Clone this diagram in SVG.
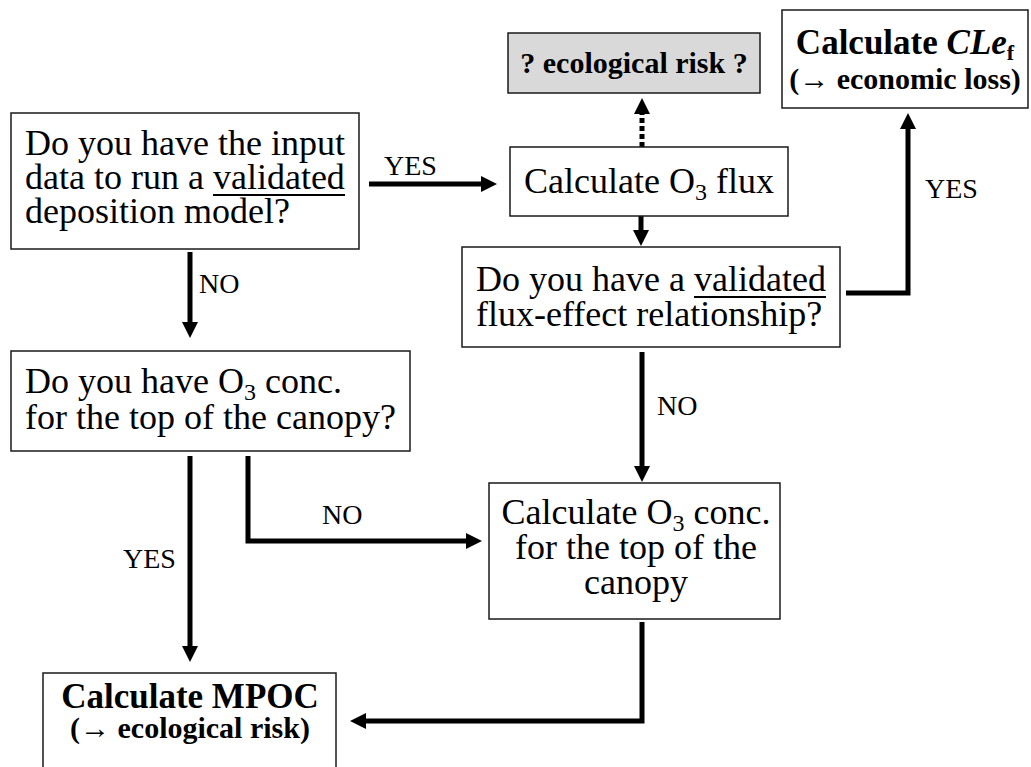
<svg xmlns="http://www.w3.org/2000/svg" width="1031" height="767" viewBox="0 0 1031 767">
<style>
  .box{fill:#ffffff;stroke:#1a1a1a;stroke-width:1.5}
  .gray{fill:#d9d9d9;stroke:#1a1a1a;stroke-width:1.5}
  .t{font-family:"Liberation Serif","Times New Roman",serif;font-size:36px;fill:#000}
  .b{font-family:"Liberation Serif","Times New Roman",serif;font-weight:bold;fill:#000}
  .lbl{font-family:"Liberation Serif","Times New Roman",serif;font-size:28px;fill:#000}
  .c{fill:none;stroke:#000;stroke-width:5;stroke-linejoin:miter}
  .ul{stroke:#000;stroke-width:2}
</style>
<defs>
  <marker id="ah" viewBox="0 0 16 16" markerWidth="16" markerHeight="16" markerUnits="userSpaceOnUse" refX="4" refY="8" orient="auto">
    <path d="M0,0 L16,8 L0,16 z" fill="#000"/>
  </marker>
</defs>

<g id="connectors">
  <path class="c" d="M369,184 H485" marker-end="url(#ah)"/>
  <path class="c" d="M190,252 V326" marker-end="url(#ah)"/>
  <path class="c" d="M641,216 V234" marker-end="url(#ah)"/>
  <path class="c" d="M642,147 V110" stroke-dasharray="5,3" marker-end="url(#ah)"/>
  <path class="c" d="M846,293 H908 V125" marker-end="url(#ah)"/>
  <path class="c" d="M642,352 V470" marker-end="url(#ah)"/>
  <path class="c" d="M190,456 V650" marker-end="url(#ah)"/>
  <path class="c" d="M248,456 V541 H470" marker-end="url(#ah)"/>
  <path class="c" d="M642,622 V721 H362" marker-end="url(#ah)"/>
  <text class="lbl" x="384" y="175">YES</text>
  <text class="lbl" x="199" y="293">NO</text>
  <text class="lbl" x="925" y="198">YES</text>
  <text class="lbl" x="657" y="415">NO</text>
  <text class="lbl" x="322" y="524">NO</text>
  <text class="lbl" x="123" y="568">YES</text>
</g>

<g id="node-input-data">
  <rect class="box" x="11" y="113" width="348" height="136"/>
  <text class="t" x="25" y="155">Do you have the input</text>
  <text class="t" x="25" y="189">data to run a validated</text>
  <line class="ul" x1="213" y1="195" x2="345" y2="195"/>
  <text class="t" x="25" y="223">deposition model?</text>
</g>

<g id="node-calc-flux">
  <rect class="box" x="510" y="147" width="278" height="69"/>
  <text class="t" x="649" y="193" text-anchor="middle">Calculate O<tspan font-size="24" dy="7">3</tspan><tspan dy="-7"> flux</tspan></text>
</g>

<g id="node-eco-risk">
  <rect class="gray" x="508" y="33" width="252" height="60"/>
  <text class="b" x="634" y="73" font-size="30" text-anchor="middle">? ecological risk ?</text>
</g>

<g id="node-cle">
  <rect class="box" x="782" y="10" width="246" height="98"/>
  <text class="b" x="905" y="54" font-size="35" text-anchor="middle">Calculate <tspan font-style="italic">CLe</tspan><tspan font-size="22" dy="6">f</tspan></text>
  <text class="b" x="905" y="89" font-size="30" text-anchor="middle">(→ economic loss)</text>
</g>

<g id="node-flux-effect">
  <rect class="box" x="462" y="247" width="378" height="100"/>
  <text class="t" x="476" y="291">Do you have a validated</text>
  <line class="ul" x1="694" y1="297" x2="826" y2="297"/>
  <text class="t" x="476" y="326">flux-effect relationship?</text>
</g>

<g id="node-o3-conc-q">
  <rect class="box" x="11" y="351" width="399" height="100"/>
  <text class="t" x="25" y="393">Do you have O<tspan font-size="24" dy="7">3</tspan><tspan dy="-7"> conc.</tspan></text>
  <text class="t" x="25" y="429">for the top of the canopy?</text>
</g>

<g id="node-calc-o3-conc">
  <rect class="box" x="489" y="483" width="291" height="136"/>
  <text class="t" x="636" y="524" text-anchor="middle">Calculate O<tspan font-size="24" dy="7">3</tspan><tspan dy="-7"> conc.</tspan></text>
  <text class="t" x="636" y="559" text-anchor="middle">for the top of the</text>
  <text class="t" x="636" y="594" text-anchor="middle">canopy</text>
</g>

<g id="node-mpoc">
  <rect class="box" x="43" y="673" width="293" height="96"/>
  <text class="b" x="190" y="708" font-size="35" text-anchor="middle">Calculate MPOC</text>
  <text class="b" x="190" y="738" font-size="30" text-anchor="middle">(→ ecological risk)</text>
</g>
</svg>
